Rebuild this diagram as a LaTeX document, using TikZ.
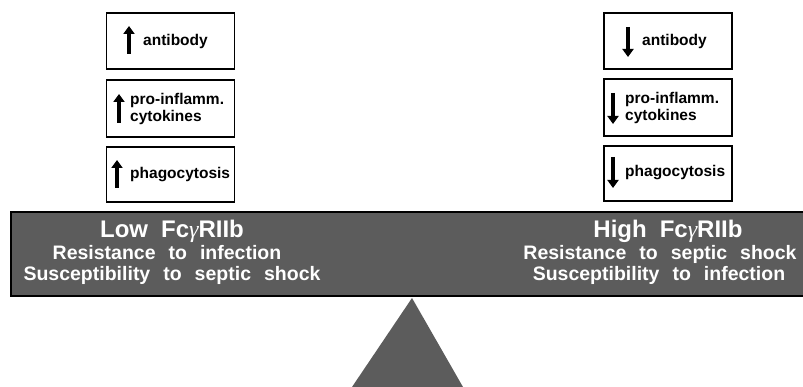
\documentclass[tikz,border=0pt]{standalone}
\usepackage{fontspec}
\setmainfont{Liberation Sans}
\newfontfamily\boldsans{Liberation Sans Bold}
\newfontfamily\gfont{Liberation Serif Italic}
\usetikzlibrary{arrows.meta}
\definecolor{bargray}{HTML}{5C5C5C}
\tikzset{
  infobox/.style={draw=black, line width=1.6pt, minimum width=128pt, inner sep=0pt},
  boxtext/.style={font=\boldsans\fontsize{15.5}{17.5}\selectfont, align=left, inner sep=0pt, anchor=base west},
  updown/.style={line width=4pt, -{Triangle[width=11pt,length=8pt]}},
  bartitle/.style={font=\boldsans\fontsize{24}{26}\selectfont, text=white, inner sep=0pt, anchor=base},
  barline/.style={font=\boldsans\fontsize{19.5}{21}\selectfont, text=white, inner sep=0pt, anchor=base},
}
\newcommand{\gap}{\hspace{13pt}}
\newcommand{\gam}{{\gfont γ}}
\begin{document}
\begin{tikzpicture}[x=1pt,y=-1pt]
\useasboundingbox[fill=white] (0,0) rectangle (803,387);
% fulcrum
\fill[bargray] (412,298) -- (352,387) -- (463,387) -- cycle;
% beam
\draw[fill=bargray, line width=1.8pt] (11,212) -- (806,212) -- (806,296) -- (11,296) -- cycle;
% left boxes
\node[infobox, minimum height=56pt] (l1) at (170.5,41) {};
\node[infobox, minimum height=57pt] (l2) at (170.5,108.5) {};
\node[infobox, minimum height=55pt] (l3) at (170.5,174.5) {};
\node[boxtext] (l1t) at (143,46) {antibody};
\node[boxtext, anchor=north west] (l2t) at (130,93) {pro-inflamm.\\cytokines};
\node[boxtext] (l3t) at (130,179) {phagocytosis};
\coordinate (l1a) at (129,54); \coordinate (l1b) at (129,26);
\coordinate (l2a) at (119,123); \coordinate (l2b) at (119,94);
\coordinate (l3a) at (117,188); \coordinate (l3b) at (117,160);
\draw[updown] (l1a) -- (l1b);
\draw[updown] (l2a) -- (l2b);
\draw[updown] (l3a) -- (l3b);
% right boxes
\node[infobox, minimum height=56pt] (r1) at (668,41) {};
\node[infobox, minimum height=57pt] (r2) at (668,107.5) {};
\node[infobox, minimum height=55pt] (r3) at (668,173.5) {};
\node[boxtext] (r1t) at (642,46) {antibody};
\node[boxtext, anchor=north west] (r2t) at (625,92) {pro-inflamm.\\cytokines};
\node[boxtext] (r3t) at (625,177) {phagocytosis};
\coordinate (r1a) at (628,27); \coordinate (r1b) at (628,57);
\coordinate (r2a) at (613,93); \coordinate (r2b) at (613,124);
\coordinate (r3a) at (613,157); \coordinate (r3b) at (613,188);
\draw[updown] (r1a) -- (r1b);
\draw[updown] (r2a) -- (r2b);
\draw[updown] (r3a) -- (r3b);
% beam texts
\node[bartitle] (lt) at (172,238) {Low\gap Fc\gam RIIb};
\node[barline] (lr) at (167,260) {Resistance\gap to\gap infection};
\node[barline] (ls) at (172,281) {Susceptibility\gap to\gap septic\gap shock};
\node[bartitle] (rt) at (668,238) {High\gap Fc\gam RIIb};
\node[barline] (rr) at (660,260) {Resistance\gap to\gap septic\gap shock};
\node[barline] (rs) at (659,281) {Susceptibility\gap to\gap infection};
\end{tikzpicture}
\end{document}
